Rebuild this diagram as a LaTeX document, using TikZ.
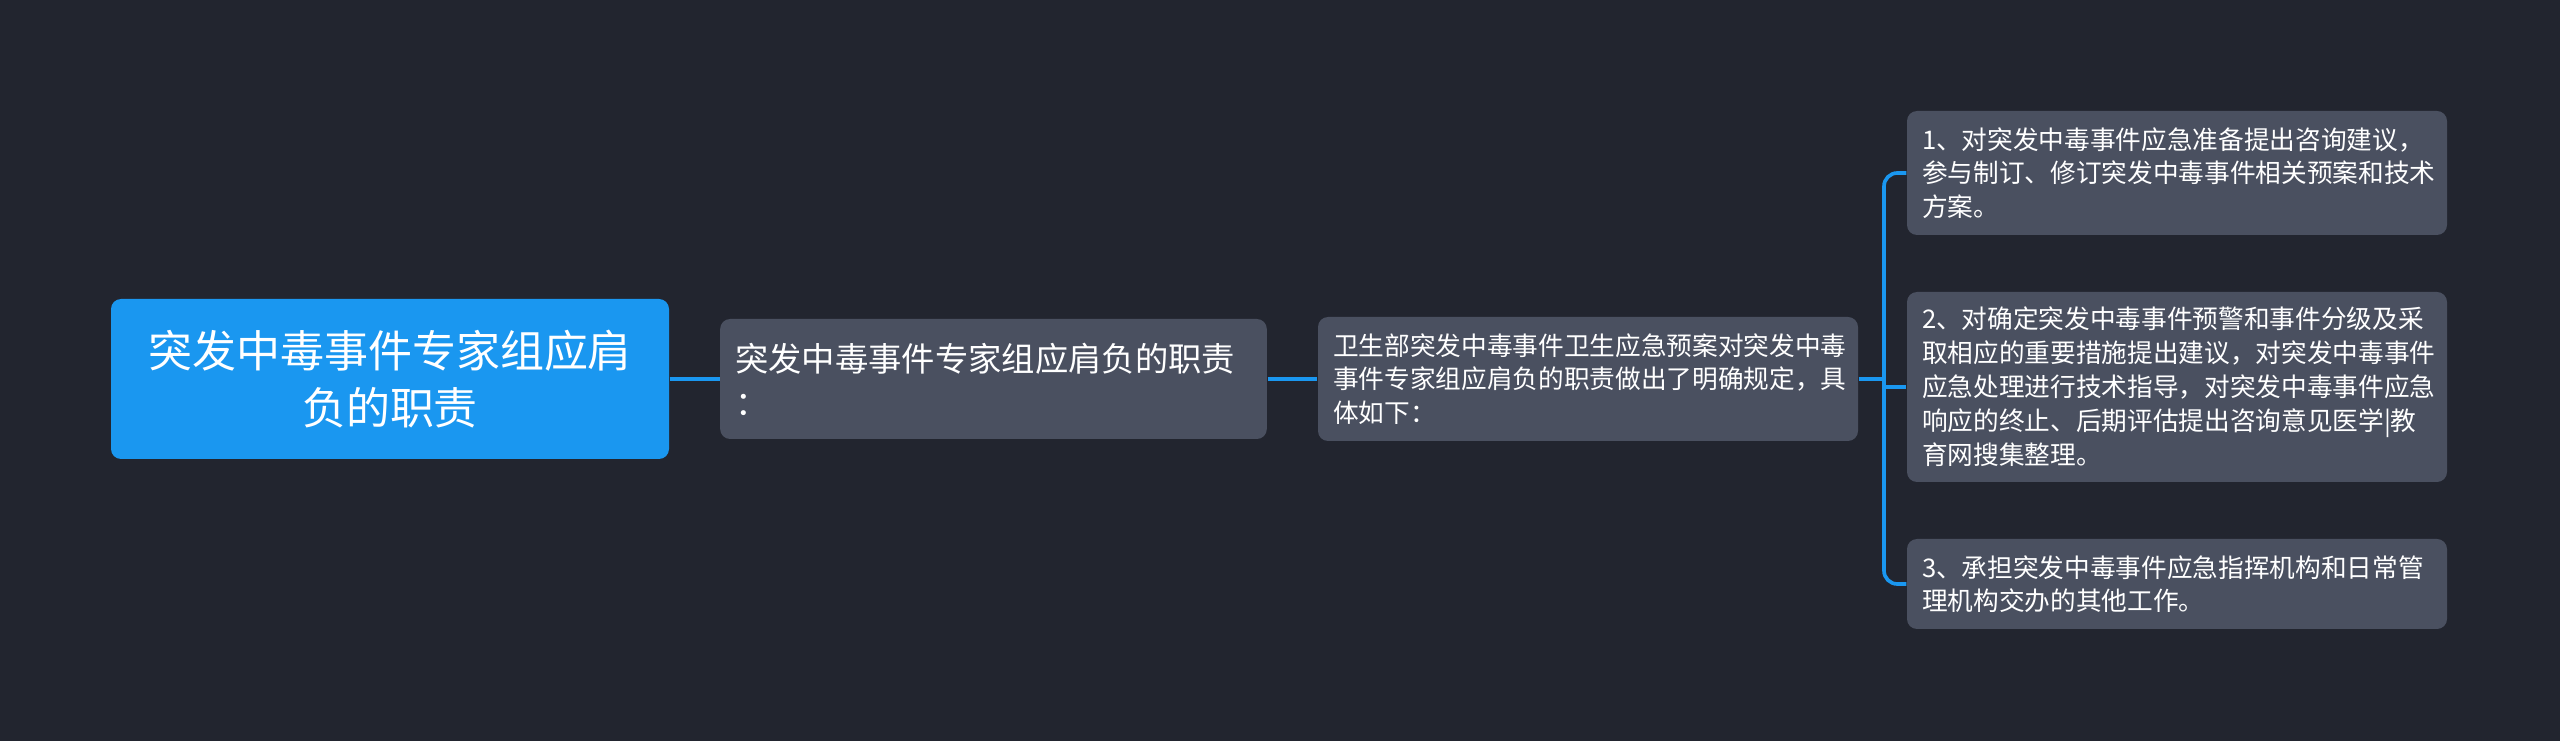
\documentclass[tikz,border=0pt]{standalone}
\usepackage{fontspec}
\setmainfont{Noto Sans CJK SC}
\usepackage{tikz}
\usepackage{xcolor}

\definecolor{bgdark}{HTML}{22252F}
\definecolor{rootblue}{HTML}{1A97F0}
\definecolor{boxgray}{HTML}{4A5060}
\definecolor{linkblue}{HTML}{1A97F0}

\tikzset{
  topic/.style={fill=rootblue, rounded corners=3pt, text=white, align=center,
    inner sep=0pt, font=\fontsize{13.2pt}{17.1pt}\selectfont},
  sub/.style={fill=boxgray, rounded corners=3pt, text=white, align=left,
    inner xsep=4.5pt, inner ysep=0pt},
  link/.style={draw=linkblue, line width=1.1pt}
}

\begin{document}
\begin{tikzpicture}[x=0.3pt,y=-0.3pt]
        % Background
        \fill[bgdark] (0,0) rectangle (2560,741);
        \useasboundingbox (0,0) rectangle (2560,741);

        % Root topic
        \node[topic, minimum width=167.4pt, minimum height=48pt] (root) at (390,379)
          {突发中毒事件专家组应肩\\负的职责};

        % Second level
        \node[sub, text width=155pt, minimum height=36pt,
          font=\fontsize{10pt}{13.2pt}\selectfont] (duty) at (993.5,379)
          {突发中毒事件专家组应肩负的职责\\：};

        % Third level
        \node[sub, text width=153pt, minimum height=37.2pt,
          font=\fontsize{7.7pt}{10pt}\selectfont] (rule) at (1588,379)
          {卫生部突发中毒事件卫生应急预案对突发中毒\\事件专家组应肩负的职责做出了明确规定，具\\体如下：};

        % Leaves
        \node[sub, text width=153pt, minimum height=37.2pt,
          font=\fontsize{7.7pt}{10pt}\selectfont] (itemA) at (2177,173)
          {1、对突发中毒事件应急准备提出咨询建议，\\参与制订、修订突发中毒事件相关预案和技术\\方案。};
        \node[sub, text width=153pt, minimum height=57pt,
          font=\fontsize{7.7pt}{10.2pt}\selectfont] (itemB) at (2177,387)
          {2、对确定突发中毒事件预警和事件分级及采\\取相应的重要措施提出建议，对突发中毒事件\\应急处理进行技术指导，对突发中毒事件应急\\响应的终止、后期评估提出咨询意见医学|教\\育网搜集整理。};
        \node[sub, text width=153pt, minimum height=27pt,
          font=\fontsize{7.7pt}{10pt}\selectfont] (itemC) at (2177,584)
          {3、承担突发中毒事件应急指挥机构和日常管\\理机构交办的其他工作。};

        % Connectors
        \coordinate (bus) at (1884,379);
        \draw[link] (root.east) -- (duty.west);
        \draw[link] (duty.east) -- (rule.west);
        \draw[link] (rule.east) -- (bus);
        \draw[link, rounded corners=4pt] (itemA.west) -| (bus) |- (itemC.west);
        \draw[link] (bus |- itemB.west) -- (itemB.west);
    \end{tikzpicture}
\end{document}
